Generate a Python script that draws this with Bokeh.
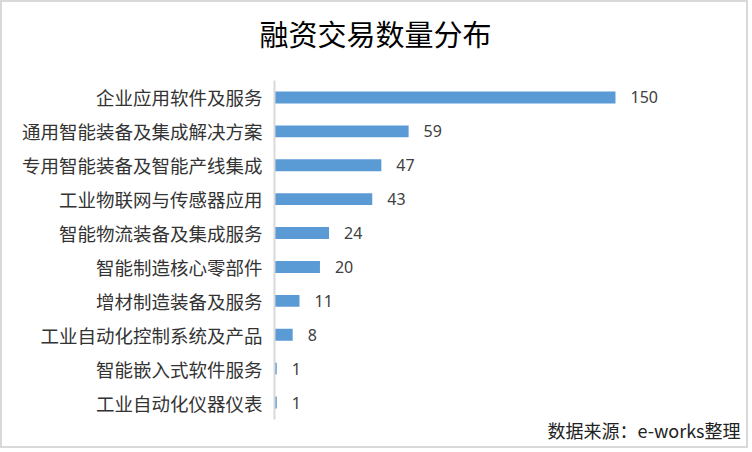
from bokeh.plotting import figure
from bokeh.models import Range1d, Title, ColumnDataSource
from bokeh.core.properties import value
from bokeh.embed import file_html
from bokeh.resources import INLINE

categories = ["企业应用软件及服务", "通用智能装备及集成解决方案", "专用智能装备及智能产线集成",
              "工业物联网与传感器应用", "智能物流装备及集成服务", "智能制造核心零部件",
              "增材制造装备及服务", "工业自动化控制系统及产品", "智能嵌入式软件服务", "工业自动化仪器仪表"]
counts = [150, 59, 47, 43, 24, 20, 11, 8, 1, 1]
title_text = "融资交易数量分布"
source_text = "数据来源：e-works整理"

cjk = "Noto Sans CJK SC"
W, H = 748, 448
FL, FT, FB_ = 272, 78, 31   # frame left, top, bottom border

p = figure(width=W, height=H, output_backend="svg", toolbar_location=None,
           y_range=list(reversed(categories)), x_range=Range1d(0, 200.6),
           min_border_left=FL, min_border_right=20, min_border_top=FT, min_border_bottom=FB_)
p.styles = {"border": "2px solid #d9d9d9"}

src = ColumnDataSource(dict(cat=categories, n=counts, lab=[str(c) for c in counts]))
p.hbar(y="cat", right="n", left=0, height=0.35, source=src, color="#5b9bd5", line_color=None)
p.text(x="n", y="cat", text="lab", source=src, x_offset=15, text_align="left",
       text_baseline="middle", text_font=value("Noto Sans"), text_font_size="16px",
       text_color="#404040")

p.xaxis.visible = False
p.xgrid.visible = False
p.ygrid.visible = False
p.outline_line_color = None
ax = p.yaxis[0]
ax.axis_line_color = "#d9d9d9"
ax.axis_line_width = 2
ax.major_tick_line_color = None
ax.minor_tick_line_color = None
ax.major_label_text_font = cjk
ax.major_label_text_font_size = "18.5px"
ax.major_label_text_color = "#333333"
ax.major_label_standoff = 6

# spacer between title and frame (first added sits nearest the frame)
p.add_layout(Title(text=" ", text_font_size="1px", standoff=24), "above")
t = Title(text=title_text, align="left", offset=-15, standoff=0,
          text_font=cjk, text_font_size="29px", text_font_style="normal", text_color="#000000")
p.add_layout(t, "above")
s = Title(text=source_text, align="left", offset=545 - FL, standoff=-9,
          text_font=cjk, text_font_size="18px", text_font_style="normal", text_color="#222222")
p.add_layout(s, "below")

open("out.html", "w").write(file_html(p, INLINE))
